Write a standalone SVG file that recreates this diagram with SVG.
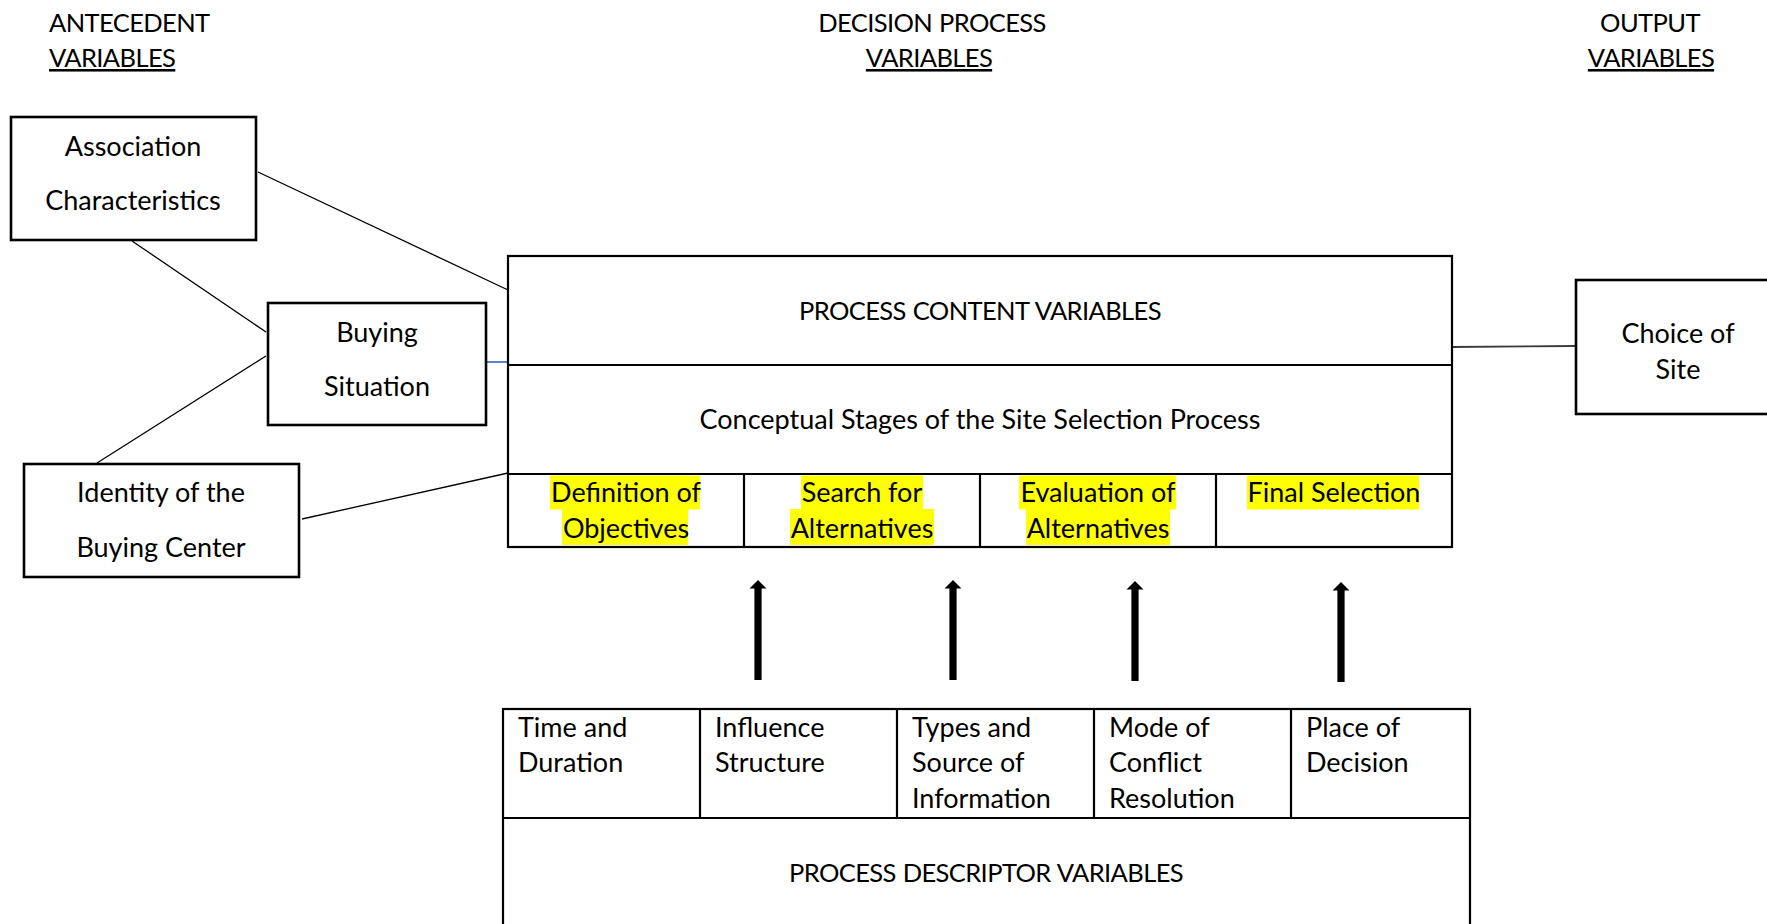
<svg xmlns="http://www.w3.org/2000/svg" width="1767" height="924" viewBox="0 0 1767 924">
  <style>
    text { font-family: Lato, "Open Sans", sans-serif; font-size: 27px; fill: #000; }
    .c { text-anchor: middle; }
    .u { text-decoration: underline; }
    .caps { font-size: 25.5px; letter-spacing: -0.6px; word-spacing: 1px; }
    .node { fill: #fff; stroke: #000; stroke-width: 2.6; }
    .frame { fill: #fff; stroke: #000; stroke-width: 2.2; }
    .div { stroke: #000; stroke-width: 2.2; fill: none; }
    .link { stroke: #000; stroke-width: 1.3; fill: none; }
    .hl { fill: #ffff00; }
  </style>
  <defs>
    <path id="uparrow" d="M0,0 L8.5,8.5 L3.6,8.5 L3.6,100 L-3.6,100 L-3.6,8.5 L-8.5,8.5 Z" fill="#000"/>
  </defs>

  <rect width="1767" height="924" fill="#fff"/>

  <!-- column headings -->
  <g id="headings">
    <text x="49" y="32" class="caps">ANTECEDENT</text>
    <text x="49" y="67" class="caps u">VARIABLES</text>
    <text x="932" y="32" class="c caps">DECISION PROCESS</text>
    <text x="929" y="67" class="c caps u">VARIABLES</text>
    <text x="1650" y="32" class="c caps">OUTPUT</text>
    <text x="1651" y="67" class="c caps u">VARIABLES</text>
  </g>

  <!-- connectors -->
  <g id="connectors">
    <line class="link" x1="258" y1="172" x2="508" y2="290"/>
    <line class="link" x1="132" y1="241" x2="266" y2="332"/>
    <line class="link" x1="266" y1="356" x2="97" y2="463"/>
    <line class="link" x1="302" y1="519" x2="508" y2="473"/>
    <line x1="486" y1="362" x2="507" y2="362" stroke="#5b84c8" stroke-width="2"/>
    <line x1="1452" y1="347" x2="1575" y2="346" stroke="#3a3a3a" stroke-width="1.8"/>
    <use href="#uparrow" x="758" y="580"/>
    <use href="#uparrow" x="953" y="580"/>
    <use href="#uparrow" x="1135" y="581"/>
    <use href="#uparrow" x="1341" y="582"/>
  </g>

  <g id="association-characteristics">
    <rect class="node" x="11" y="117" width="245" height="123"/>
    <text x="133" y="156" class="c">Association</text>
    <text x="133" y="210" class="c">Characteristics</text>
  </g>

  <g id="buying-situation">
    <rect class="node" x="268" y="303" width="218" height="122"/>
    <text x="377" y="342" class="c">Buying</text>
    <text x="377" y="396" class="c">Situation</text>
  </g>

  <g id="buying-center">
    <rect class="node" x="24" y="464" width="275" height="113"/>
    <text x="161" y="502" class="c">Identity of the</text>
    <text x="161" y="557" class="c">Buying Center</text>
  </g>

  <g id="process-content">
    <rect class="frame" x="508" y="256" width="944" height="291"/>
    <line class="div" x1="508" y1="365" x2="1452" y2="365"/>
    <line class="div" x1="508" y1="474" x2="1452" y2="474"/>
    <line class="div" x1="744" y1="474" x2="744" y2="547"/>
    <line class="div" x1="980" y1="474" x2="980" y2="547"/>
    <line class="div" x1="1216" y1="474" x2="1216" y2="547"/>
    <text x="980" y="320" class="c caps">PROCESS CONTENT VARIABLES</text>
    <text x="980" y="429" class="c">Conceptual Stages of the Site Selection Process</text>

    <!-- highlighted stage names -->
    <rect class="hl" x="550" y="475.5" width="150" height="34"/>
    <rect class="hl" x="562" y="509" width="126" height="36"/>
    <rect class="hl" x="801" y="475.5" width="122" height="34"/>
    <rect class="hl" x="790" y="509" width="144" height="36"/>
    <rect class="hl" x="1019" y="475.5" width="157" height="34"/>
    <rect class="hl" x="1026" y="509" width="144" height="36"/>
    <rect class="hl" x="1247" y="475.5" width="172" height="34"/>
    <text x="626" y="502" class="c">Definition of</text>
    <text x="626" y="538" class="c">Objectives</text>
    <text x="862" y="502" class="c">Search for</text>
    <text x="862" y="538" class="c">Alternatives</text>
    <text x="1098" y="502" class="c">Evaluation of</text>
    <text x="1098" y="538" class="c">Alternatives</text>
    <text x="1334" y="502" class="c">Final Selection</text>
  </g>

  <g id="choice-of-site">
    <rect class="node" x="1576" y="280" width="230" height="134"/>
    <text x="1678" y="343" class="c">Choice of</text>
    <text x="1678" y="379" class="c">Site</text>
  </g>

  <g id="process-descriptor">
    <rect class="frame" x="503" y="709" width="967" height="240"/>
    <line class="div" x1="503" y1="818" x2="1470" y2="818"/>
    <line class="div" x1="700" y1="709" x2="700" y2="818"/>
    <line class="div" x1="897" y1="709" x2="897" y2="818"/>
    <line class="div" x1="1094" y1="709" x2="1094" y2="818"/>
    <line class="div" x1="1291" y1="709" x2="1291" y2="818"/>
    <text x="518" y="737">Time and</text>
    <text x="518" y="772">Duration</text>
    <text x="715" y="737">Influence</text>
    <text x="715" y="772">Structure</text>
    <text x="912" y="737">Types and</text>
    <text x="912" y="772">Source of</text>
    <text x="912" y="808">Information</text>
    <text x="1109" y="737">Mode of</text>
    <text x="1109" y="772">Conflict</text>
    <text x="1109" y="808">Resolution</text>
    <text x="1306" y="737">Place of</text>
    <text x="1306" y="772">Decision</text>
    <text x="986" y="882" class="c caps">PROCESS DESCRIPTOR VARIABLES</text>
  </g>
</svg>
